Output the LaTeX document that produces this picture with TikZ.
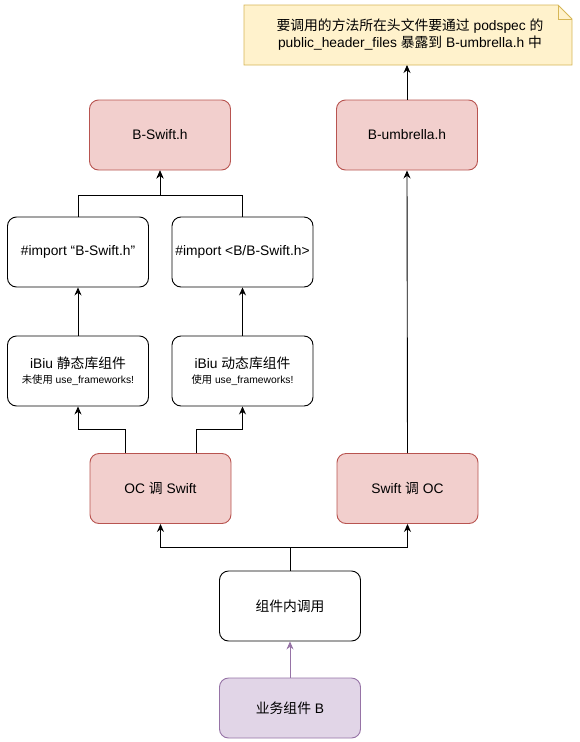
\documentclass[tikz,border=0pt]{standalone}
\usepackage{fontspec}
\setmainfont{Liberation Sans}
\newfontfamily\cjk{Noto Sans CJK SC}
\usetikzlibrary{arrows.meta}
\definecolor{pinkfill}{HTML}{F2CFCD}
\definecolor{pinkline}{HTML}{B85450}
\definecolor{purpfill}{HTML}{E1D5E7}
\definecolor{purpline}{HTML}{9673A6}
\definecolor{notefill}{HTML}{FFF2CC}
\definecolor{noteline}{HTML}{D6B656}
\tikzset{
  box/.style={draw=black, fill=white, rounded corners=9pt, minimum width=141pt, minimum height=70pt, inner sep=0pt, align=center, font=\fontsize{13.8}{17}\selectfont, line width=0.9pt},
  pinkbox/.style={box, draw=pinkline, fill=pinkfill},
  purpbox/.style={box, draw=purpline, fill=purpfill, minimum height=60pt},
  conn/.style={draw=black, line width=0.9pt, -{Stealth[length=8pt,width=7pt]}},
}
\begin{document}
\begin{tikzpicture}[x=1pt,y=-1pt]
\useasboundingbox (0,0) rectangle (580,742);
% note
\fill[notefill] (244,5) -- (558,5) -- (572,19) -- (572,65) -- (244,65) -- cycle;
\draw[noteline, line width=0.9pt] (244,5) -- (558,5) -- (572,19) -- (572,65) -- (244,65) -- cycle;
\draw[noteline, line width=0.9pt] (558,5) -- (558,19) -- (572,19);
\node[font=\fontsize{13.8}{17}\selectfont, align=center] (note) at (410,35) {{\cjk 要调用的方法所在头文件要通过} podspec {\cjk 的}\\public\_header\_files {\cjk 暴露到} B-umbrella.h {\cjk 中}};
\coordinate (noteb) at (407,65);

\node[pinkbox] (bswift) at (160,135) {B-Swift.h};
\node[pinkbox] (bumb) at (407,135) {B-umbrella.h};
\node[box] (imp1) at (78,252) {\#import “B-Swift.h”};
\node[box] (imp2) at (242.5,252) {\#import <B/B-Swift.h>};
\node[box] (ibs) at (78,371) {iBiu {\cjk 静态库组件}\\[-2pt]{\fontsize{10.3}{12}\selectfont{\cjk 未使用} use\_frameworks!}};
\node[box] (ibd) at (242.5,371) {iBiu {\cjk 动态库组件}\\[-2pt]{\fontsize{10.3}{12}\selectfont{\cjk 使用} use\_frameworks!}};
\node[pinkbox] (ocs) at (160.5,488.5) {OC {\cjk 调} Swift};
\node[pinkbox] (soc) at (407.5,488.5) {Swift {\cjk 调} OC};
\node[box] (inner) at (290,606) {\cjk 组件内调用};
\node[purpbox] (biz) at (290,708) {{\cjk 业务组件} B};

% connectors
\draw[conn] (inner.north) -- (290,547) -| (ocs.south);
\draw[conn] (inner.north) -- (290,547) -| (soc.south);
\draw[conn] ([xshift=-35.5pt]ocs.north) -- ++(0,-24) -| (ibs.south);
\draw[conn] ([xshift=35.5pt]ocs.north) -- ++(0,-24) -| (ibd.south);
\draw[conn] (ibs) -- (imp1);
\draw[conn] (ibd) -- (imp2);
\draw[conn] (imp1.north) -- (78,195) -| (bswift.south);
\draw[conn] (imp2.north) -- (242.5,195) -| (bswift.south);
\draw[conn] (soc.north) -- (bumb.south);
\draw[conn] (bumb.north) -- (noteb);
\draw[conn, draw=purpline, fill=purpline] (biz) -- (inner);
\end{tikzpicture}
\end{document}
